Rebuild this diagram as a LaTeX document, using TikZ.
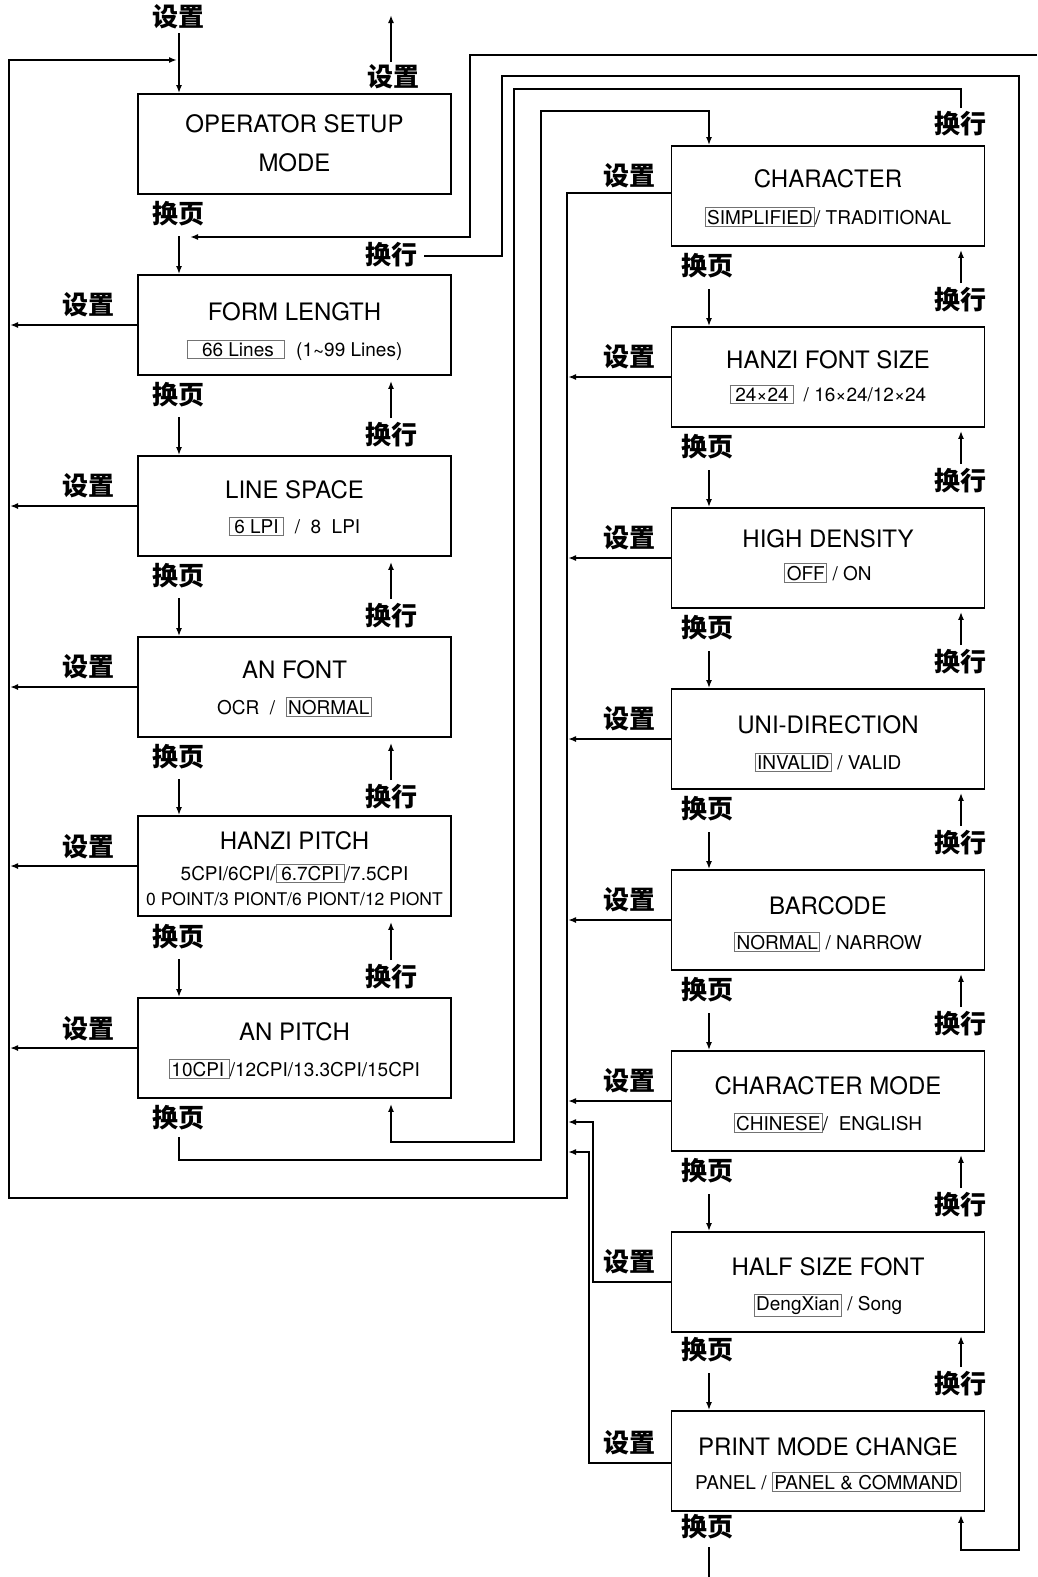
\documentclass[tikz,border=0pt]{standalone}
\usepackage{fontspec}
\setmainfont{TeX Gyre Heros}
\newfontfamily\cjk{Noto Sans CJK SC}
\usetikzlibrary{arrows.meta,calc}
\definecolor{selgray}{gray}{0.45}
\newcommand{\sel}[1]{{\setlength{\fboxsep}{1.5pt}\setlength{\fboxrule}{0.9pt}\fcolorbox{selgray}{white}{#1}}}
% name, cx, top, title offset, sub offset, title, sub
\newcommand{\mkbox}[7]{%
  \node[box] (#1) at (#2,#3+50) {};
  \node[ttl] (#1t) at (#2,#3+#4) {#6};
  \node[subt] (#1s) at (#2,#3+#5) {#7};}
\begin{document}
\begin{tikzpicture}[x=1pt,y=-1pt,
  box/.style={draw,line width=1.8pt,minimum width=313pt,minimum height=100pt,inner sep=0pt},
  ttl/.style={font=\fontsize{24}{28}\selectfont,inner sep=0pt,anchor=base},
  subt/.style={font=\fontsize{19}{22}\selectfont,inner sep=0pt,anchor=base},
  smallt/.style={font=\fontsize{17.5}{20}\selectfont,inner sep=0pt,anchor=base},
  cn/.style={font=\cjk\bfseries\fontsize{26}{28}\selectfont,inner sep=0pt},
  conn/.style={line width=1.6pt},
  arr/.style={conn,-{Latex[length=8pt,width=6pt]}},
]
\useasboundingbox (0,0) rectangle (1037,1577);
% helper coordinates
\coordinate (railL) at (9,0);
\coordinate (railR) at (567,0);
\coordinate (xLp) at (179,0);
\coordinate (xLh) at (391,0);
\coordinate (xRp) at (709,0);
\coordinate (xRh) at (961,0);
% ---------------- left column
\node[box] (L1) at (294.5,144) {};
\node[ttl] (L1a) at (294.5,132) {OPERATOR SETUP};
\node[ttl] (L1b) at (294.5,171) {MODE};
\mkbox{L2}{294.5}{275}{45}{81}{FORM LENGTH}{\sel{\hspace{13pt}66 Lines\hspace{9pt}}\hspace{11pt}(1\raisebox{-0.3ex}{\textasciitilde}99 Lines)}
\mkbox{L3}{294.5}{456}{42}{77}{LINE SPACE}{\sel{\,6 LPI\,}\ \ /\ \ 8\ \ LPI}
\mkbox{L4}{294.5}{637}{41}{77}{AN FONT}{OCR\ \ /\ \ \sel{NORMAL}}
\node[box] (L5) at (294.5,866) {};
\node[ttl] (L5t) at (294.5,849) {HANZI PITCH};
\node[subt] (L5s) at (294.5,880.5) {5CPI/6CPI/\sel{\,6.7CPI\,}/7.5CPI};
\node[smallt] (L5u) at (294.5,905) {0 POINT/3 PIONT/6 PIONT/12 PIONT};
\mkbox{L6}{294.5}{998}{42}{78}{AN PITCH}{\sel{10CPI\,}/12CPI/13.3CPI/15CPI}
% ---------------- right column
\mkbox{R1}{828}{146}{41}{78}{CHARACTER}{\sel{SIMPLIFIED}/ TRADITIONAL}
\mkbox{R2}{828}{327}{41}{74}{HANZI FONT SIZE}{\sel{\,24×24\,}\enspace/ 16×24/12×24}
\mkbox{R3}{828}{508}{39}{72}{HIGH DENSITY}{\sel{OFF}\ / ON}
\mkbox{R4}{828}{689}{44}{80}{UNI-DIRECTION}{\sel{INVALID}\ / VALID}
\mkbox{R5}{828}{870}{44}{79}{BARCODE}{\sel{NORMAL}\ / NARROW}
\mkbox{R6}{828}{1051}{43}{79}{CHARACTER MODE}{\sel{CHINESE}/\ \ ENGLISH}
\mkbox{R7}{828}{1232}{43}{78}{HALF SIZE FONT}{\sel{DengXian}\ / Song}
\mkbox{R8}{828}{1411}{44}{78}{PRINT MODE CHANGE}{PANEL /\ \sel{PANEL \& COMMAND}}
% ---------------- top labels
\node[cn] (s0) at (178,17) {设置};
\draw[arr] ($(s0 -| xLp)+(0,16)$) -- (L1.north -| xLp);
\node[cn] (s1) at (393,77) {设置};
\coordinate (s1out) at (391,15);
\draw[arr] ($(s1 -| xLh)+(0,-15)$) -- (s1out);
% ---------------- left 换页
\foreach \i/\y in {1/214,2/395,3/576,4/757,5/937,6/1118}{
  \node[cn] (Lp\i) at (178,\y) {换页};
}
\foreach \i/\j in {1/2,2/3,3/4,4/5,5/6}{
  \draw[arr] ($(Lp\i -| xLp)+(0,22)$) -- (L\j.north -| xLp);
}
% ---------------- left 换行
\node[cn] (Lh1) at (391,255) {换行};
\foreach \i/\y in {2/435,3/616,4/797,5/977}{
  \node[cn] (Lh\i) at (391,\y) {换行};
  \draw[arr] ($(Lh\i -| xLh)+(0,-17)$) -- ($(L\i.south -| xLh)+(0,5)$);
}
% ---------------- left 设置
\foreach \i/\y in {2/305,3/486,4/667,5/847,6/1029}{
  \node[cn] (Ls\i) at (88,\y) {设置};
  \draw[arr] (L\i.west) -- ($(L\i.west -| railL)+(1,0)$);
}
% ---------------- right 换页
\node[cn] (Rh0) at (960,124) {换行};
\foreach \i/\y in {1/266,2/447,3/628,4/809,5/990,6/1171,7/1350,8/1527}{
  \node[cn] (Rp\i) at (707,\y) {换页};
}
\foreach \i/\j in {1/2,2/3,3/4,4/5,5/6,6/7,7/8}{
  \draw[arr] ($(Rp\i -| xRp)+(0,23)$) -- (R\j.north -| xRp);
}
\coordinate (bottomOut) at (709,1577);
\draw[conn] ($(Rp8 -| xRp)+(0,20)$) -- (bottomOut);
% ---------------- right 换行
\foreach \i/\y in {1/300,2/481,3/662,4/843,5/1024,6/1205,7/1384}{
  \node[cn] (Rh\i) at (960,\y) {换行};
  \draw[arr] ($(Rh\i -| xRh)+(0,-17)$) -- ($(R\i.south -| xRh)+(0,3)$);
}
% ---------------- right 设置
\foreach \i/\y in {1/176,2/357,3/538,4/719,5/900,6/1081,7/1262,8/1443}{
  \node[cn] (Rs\i) at (629,\y) {设置};
}
\foreach \i in {2,3,4,5,6}{
  \draw[arr] (R\i.west) -- ($(R\i.west -| railR)+(1,0)$);
}
\draw[arr] (R7.west) -- (593,1282) -- (593,1122) -- (568,1122);
\draw[arr] ($(R8.west)+(0,2)$) -- (589,1463) -- (589,1152) -- (568,1152);
% ---------------- long connectors
% A: from right edge to the first 换页 line
\coordinate (aStart) at (1037,55);
\coordinate (aEnd) at (190,237);
\draw[arr] (aStart) -- (470,55) -- (470,237) -- (aEnd);
% B: 换行 from FORM LENGTH level to PRINT MODE CHANGE
\draw[arr] ($(Lh1.east)+(7,1)$) -- (502,256) -- (502,76) -- (1019,76) -- (1019,1550) -- (961,1550) -- ($(R8.south -| xRh)+(0,3)$);
% C: 换行 above CHARACTER back to AN PITCH
\draw[arr] ($(Rh0 -| xRh)+(0,-16)$) -- (961,89) -- (514,89) -- (514,1142) -- (391,1142) -- ($(L6.south -| xLh)+(0,5)$);
% D: 换页 below AN PITCH to CHARACTER
\draw[arr] ($(Lp6 -| xLp)+(0,19)$) -- (179,1160) -- (541,1160) -- (541,111) -- (709,111) -- (R1.north -| xRp);
% E: 设置 of CHARACTER back to OPERATOR SETUP MODE
\coordinate (eEnd) at (177,60);
\draw[arr] ($(R1.west)+(0,-3)$) -- (567,193) -- (567,1198) -- (9,1198) -- (9,60) -- (eEnd);
\end{tikzpicture}
\end{document}
